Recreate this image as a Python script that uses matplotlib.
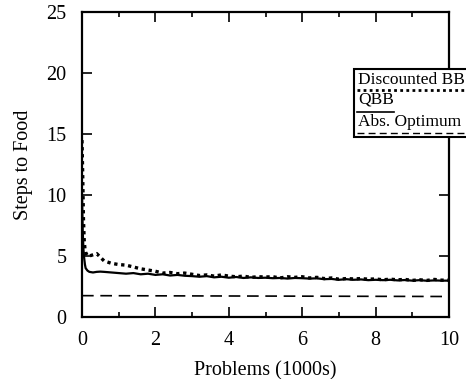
import matplotlib
matplotlib.use('Agg')
import matplotlib.pyplot as plt
from matplotlib.lines import Line2D
from matplotlib.patches import Rectangle

problems = [0, 0.02, 0.04, 0.06, 0.08, 0.1, 0.15, 0.2, 0.3, 0.4, 0.5,
            0.6, 0.8, 1.0, 1.2, 1.4, 1.6, 1.8, 2.0, 2.2, 2.4, 2.6, 2.8,
            3.0, 3.2, 3.4, 3.6, 3.8, 4.0, 4.2, 4.4, 4.6, 4.8, 5.0, 5.2,
            5.4, 5.6, 5.8, 6.0, 6.2, 6.4, 6.6, 6.8, 7.0, 7.2, 7.4, 7.6,
            7.8, 8.0, 8.2, 8.4, 8.6, 8.8, 9.0, 9.2, 9.4, 9.6, 9.8, 10.0]

discounted_bb = [14.5, 11.5, 8.0, 6.3, 5.6, 5.3, 5.0, 5.0, 5.1, 5.2, 4.9,
                 4.6, 4.4, 4.3, 4.25, 4.1, 3.95, 3.85, 3.75, 3.6, 3.65, 3.55, 3.6,
                 3.5, 3.4, 3.45, 3.35, 3.45, 3.35, 3.3, 3.35, 3.25, 3.3, 3.28, 3.3,
                 3.2, 3.3, 3.25, 3.3, 3.2, 3.25, 3.15, 3.2, 3.1, 3.15, 3.12, 3.15,
                 3.1, 3.12, 3.05, 3.1, 3.05, 3.08, 3.0, 3.05, 3.0, 3.08, 3.02, 3.02]

qbb = [10.0, 7.0, 5.5, 4.8, 4.3, 4.0, 3.8, 3.7, 3.65, 3.7, 3.72,
       3.7, 3.65, 3.6, 3.55, 3.6, 3.5, 3.55, 3.45, 3.5, 3.4, 3.45, 3.38,
       3.35, 3.3, 3.35, 3.25, 3.3, 3.22, 3.28, 3.2, 3.25, 3.2, 3.22, 3.18,
       3.2, 3.15, 3.2, 3.18, 3.15, 3.17, 3.1, 3.12, 3.05, 3.1, 3.05, 3.08,
       3.02, 3.05, 3.02, 3.05, 3.0, 3.03, 2.98, 3.02, 2.97, 3.0, 2.98, 2.98]

abs_optimum_x = [0, 10]
abs_optimum = [1.75, 1.68]

plt.rcParams['font.family'] = ['Liberation Serif', 'DejaVu Serif']
W, H = 466, 379
fig = plt.figure(figsize=(W / 100, H / 100), dpi=100)
ax = fig.add_axes([82 / W, 1 - 317 / H, (449 - 82) / W, (317 - 12) / H])

ax.plot(problems, discounted_bb, color='black', linestyle=(0, (1, 1.1)), linewidth=2.4)
ax.plot(problems, qbb, color='black', linestyle='-', linewidth=1.6)
ax.plot(abs_optimum_x, abs_optimum, color='black', linestyle=(0, (7, 4)), linewidth=1.2)

ax.set_xlim(0, 10)
ax.set_ylim(0, 25)
ax.set_xticks([0, 2, 4, 6, 8, 10])
ax.set_xticks([1, 3, 5, 7, 9], minor=True)
ax.set_yticks([0, 5, 10, 15, 20, 25])
ax.tick_params(which='both', direction='in', top=True, right=True,
               labelsize=14.5, width=1.2)
ax.tick_params(axis='x', pad=10)
ax.tick_params(axis='y', pad=11)
ax.tick_params(which='major', length=7)
ax.tick_params(which='minor', length=3.5)
for s in ax.spines.values():
    s.set_linewidth(1.6)

ax.set_xlabel('Problems (1000s)', fontsize=14.5, labelpad=8)
ax.set_ylabel('Steps to Food', fontsize=14.5, labelpad=10)

# Hand-drawn legend box (label above line sample), running off the right edge.
def fx(px):
    return px / W

def fy(py):
    return 1 - py / H

box = Rectangle((fx(354), fy(137)), fx(480) - fx(354), fy(69) - fy(137),
                transform=fig.transFigure, facecolor='white', edgecolor='black',
                linewidth=1.5, zorder=5)
fig.patches.append(box)
fig.text(fx(358), fy(80), 'Discounted BB', fontsize=12.5, va='center', ha='left', zorder=6)
fig.lines.append(Line2D([fx(357), fx(466)], [fy(90), fy(90)], transform=fig.transFigure,
                        color='black', linestyle=(0, (1, 1.2)), linewidth=2, zorder=6))
fig.text(fx(358), fy(100), 'QBB', fontsize=12.5, va='center', ha='left', zorder=6)
fig.lines.append(Line2D([fx(357), fx(394)], [fy(112), fy(112)], transform=fig.transFigure,
                        color='black', linestyle='-', linewidth=1.2, zorder=6))
fig.text(fx(358), fy(122), 'Abs. Optimum', fontsize=12.5, va='center', ha='left', zorder=6)
fig.lines.append(Line2D([fx(357), fx(466)], [fy(133), fy(133)], transform=fig.transFigure,
                        color='black', linestyle=(0, (5, 3)), linewidth=1, zorder=6))

fig.savefig('out.png', dpi=100)
